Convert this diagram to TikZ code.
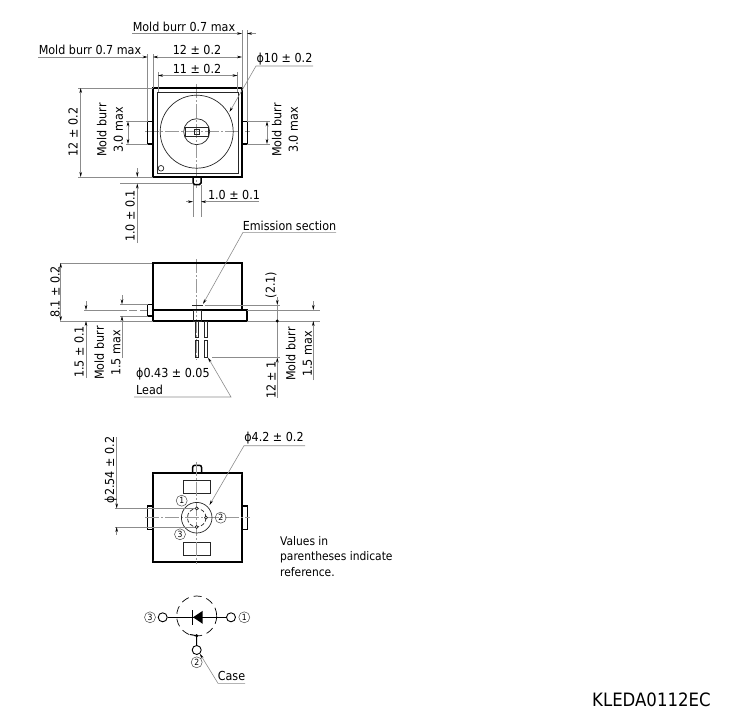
\documentclass[tikz,border=0pt]{standalone}
\usepackage{fontspec}
\setmainfont{DejaVu Sans Condensed}
\usetikzlibrary{arrows.meta}
\tikzset{
  outline/.style={black,line width=1.9pt},
  tabline/.style={black,line width=1.5pt},
  thinpart/.style={black!85,line width=0.7pt},
  dimline/.style={black!45,line width=0.6pt},
  centerline/.style={black!40,line width=0.6pt,dash pattern=on 14pt off 2pt on 2pt off 2pt},
  dimtip/.style={-{Stealth[length=5pt,width=2.6pt,black]}},
  dimtips/.style={{Stealth[length=5pt,width=2.6pt,black]}-{Stealth[length=5pt,width=2.6pt,black]}},
  txt/.style={black,inner sep=0pt,font=\fontsize{12.4}{13.5}\selectfont},
  vtxt/.style={txt,rotate=90},
  pinlabel/.style={circle,draw=black!70,line width=0.5pt,inner sep=0pt,minimum size=11pt,font=\fontsize{8.5}{9}\selectfont},
  term/.style={circle,draw=black,line width=0.9pt,fill=white,minimum size=9pt,inner sep=0pt}
}
\begin{document}
\begin{tikzpicture}[x=1pt,y=-1pt]
  \useasboundingbox (0,0) rectangle (732,726);
  % top view
  \draw[centerline] (196.7,84) -- (196.7,188);
  \draw[centerline] (145,131.7) -- (250,131.7);
  \draw[outline] (153,88) rectangle (242,177);
  \draw[thinpart] (157,92) rectangle (238.5,173);
  \draw[thinpart] (196.7,131.7) circle (36.5);
  \draw[thinpart] (196.7,131.7) circle (13);
  \draw[thinpart] (185.3,127) rectangle (208.7,136.7);
  \draw[thinpart] (194,129) rectangle (199.5,134.5);
  \draw[thinpart] (161,168.3) circle (2.8);
  \draw[tabline] (153,121.3) -- (147.5,121.3) -- (147.5,144) -- (153,144);
  \draw[tabline] (242,121.3) -- (247.3,121.3) -- (247.3,144) -- (242,144);
  \draw[tabline,rounded corners=1.5pt] (193,177) -- (193,184.5) -- (201,184.5) -- (201,177);
  % top view dimensions
  \draw[dimline] (242,30) -- (242,88);
  \draw[dimline] (247,30) -- (247,121);
  \draw[dimline] (147.7,54) -- (147.7,121);
  \draw[dimline] (153,54) -- (153,88);
  \draw[dimline] (158,72) -- (158,92);
  \draw[dimline] (237.5,72) -- (237.5,92);
  \draw[dimline,dimtip] (132,33.5) -- (242,33.5);
  \draw[dimline,dimtip] (256,33.5) -- (247,33.5);
  \node[txt] (burrtop) at (184,26.5) {Mold burr 0.7 max};
  \draw[dimline,dimtip] (38,57) -- (147.7,57);
  \node[txt] (burrleft) at (90,50) {Mold burr 0.7 max};
  \draw[dimline,dimtips] (153,57) -- (242,57);
  \node[txt] (widthouter) at (197,50) {12 ± 0.2};
  \draw[dimline,dimtips] (158,75.5) -- (237.5,75.5);
  \node[txt] (widthinner) at (197,68.5) {11 ± 0.2};
  \draw[dimline,dimtip] (313,66) -- (256,66) -- (229.5,112);
  \node[txt] (domedia) at (284.5,59) {ϕ10 ± 0.2};
  \draw[dimline] (78,88) -- (153,88);
  \draw[dimline] (78,177) -- (153,177);
  \draw[dimline,dimtips] (80.7,88) -- (80.7,177);
  \node[vtxt] (heighttop) at (73,132) {12 ± 0.2};
  \draw[dimline] (126,121.3) -- (147.5,121.3);
  \draw[dimline] (126,144) -- (147.5,144);
  \draw[dimline,dimtips] (128,121.3) -- (128,144);
  \node[vtxt,align=center] (burrtableft) at (110,130) {Mold burr\\[2.8pt]3.0 max};
  \draw[dimline] (247.3,121.3) -- (270,121.3);
  \draw[dimline] (247.3,144) -- (270,144);
  \draw[dimline,dimtips] (267,121.3) -- (267,144);
  \node[vtxt,align=center] (burrtabright) at (285,130) {Mold burr\\[2.8pt]3.0 max};
  \draw[dimline] (132,177) -- (153,177);
  \draw[dimline] (120,183.5) -- (193,183.5);
  \draw[dimline,dimtip] (137.3,168) -- (137.3,177);
  \draw[dimline,dimtip] (137.3,243) -- (137.3,183.5);
  \node[vtxt] (tabheight) at (130,216) {1.0 ± 0.1};
  \draw[dimline] (193,185) -- (193,217);
  \draw[dimline] (201,185) -- (201,217);
  \draw[dimline,dimtip] (186,201.7) -- (193,201.7);
  \draw[dimline,dimtip] (259,201.7) -- (201,201.7);
  \node[txt] (tabwidth) at (234,194.5) {1.0 ± 0.1};
  % side view
  \draw[centerline] (196.7,259) -- (196.7,360);
  \draw[outline] (153,310) -- (153,263) -- (242,263) -- (242,310);
  \draw[outline] (153,310) rectangle (247.3,321);
  \draw[tabline] (153,304.3) -- (147.5,304.3) -- (147.5,316) -- (153,316);
  \draw[thinpart] (193.3,310) rectangle (201,321);
  \draw[thinpart] (195,321) rectangle (198.3,337.5);
  \draw[thinpart] (195,340) rectangle (198.3,357.5);
  \draw[thinpart] (204.5,321) rectangle (207.8,337.5);
  \draw[thinpart] (204.5,340) rectangle (207.8,357.5);
  \draw[thinpart] (192,305) -- (203,305);
  % side view dimensions
  \draw[dimline] (60,263) -- (152,263);
  \draw[dimline] (60,321) -- (153,321);
  \draw[dimline,dimtips] (60.7,263) -- (60.7,321);
  \node[vtxt] (heightside) at (55,292) {8.1 ± 0.2};
  \draw[dimline] (84,310) -- (127,310);
  \draw[dimline,dash pattern=on 8pt off 3pt] (129,310) -- (147,310);
  \draw[dimline,dimtip] (86,301) -- (86,310);
  \draw[dimline,dimtip] (86,378) -- (86,321);
  \node[vtxt] (flange) at (79,352) {1.5 ± 0.1};
  \draw[dimline] (120,304.3) -- (147.5,304.3);
  \draw[dimline] (120,316) -- (147.5,316);
  \draw[dimline,dimtip] (122,295) -- (122,304.3);
  \draw[dimline,dimtip] (122,358) -- (122,316);
  \node[vtxt,align=center] (burrsideleft) at (107.5,353) {Mold burr\\[2.8pt]1.5 max};
  \draw[dimline,dimtip] (336,232.3) -- (243,232.3) -- (203,304);
  \node[txt] (emission) at (289.5,225.5) {Emission section};
  \draw[dimline] (205,305) -- (280,305);
  \draw[dimline] (247.3,310) -- (320,310);
  \draw[dimline] (247.3,321) -- (320,321);
  \draw[dimline,dimtip] (277.3,297) -- (277.3,305);
  \draw[dimline] (277.3,305) -- (277.3,357.5);
  \fill[black] (277.3,321) circle (1.6);
  \draw[dimline,dimtip] (277.3,398) -- (277.3,357.5);
  \draw[dimline] (212,357.5) -- (280,357.5);
  \node[vtxt] (emissionheight) at (271,285) {(2.1)};
  \node[vtxt] (leadlength) at (271,380) {12 ± 1};
  \draw[dimline,dimtip] (313.3,301) -- (313.3,310);
  \draw[dimline,dimtip] (313.3,380) -- (313.3,321);
  \node[vtxt,align=center] (burrsideright) at (299,354) {Mold burr\\[2.8pt]1.5 max};
  \draw[dimline,dimtip] (134,397) -- (231,397) -- (208,357.5);
  \node[txt,anchor=west] (leaddia) at (136,374) {ϕ0.43 ± 0.05};
  \node[txt,anchor=west] (leadname) at (136,390) {Lead};
  % bottom view
  \draw[outline] (153,473.3) rectangle (242,561.7);
  \foreach \cx/\cy/\dx/\dy in {154/474.3/1/1,241/474.3/-1/1,154/560.7/1/-1,241/560.7/-1/-1}
    \draw[white,line width=1pt] (\cx,\cy) -- ++(2*\dx,2*\dy);
  \draw[tabline] (153,506) -- (147.5,506) -- (147.5,529.3) -- (153,529.3);
  \draw[tabline] (242,506) -- (247.3,506) -- (247.3,529.3) -- (242,529.3);
  \draw[tabline,rounded corners=2pt] (192.7,473.3) -- (192.7,465.3) -- (201.5,465.3) -- (201.5,473.3);
  \draw[thinpart] (183.3,480.7) rectangle (210.7,493.3);
  \draw[thinpart] (183.3,542.3) rectangle (210.7,555);
  \draw[centerline] (196.7,461.7) -- (196.7,564);
  \draw[centerline] (145,517.7) -- (250,517.7);
  \draw[thinpart] (196.7,517.7) circle (15.3);
  \draw[thinpart,dash pattern=on 4pt off 2pt] (196.7,517.7) circle (9.3);
  \foreach \px/\py in {196.7/508.4,196.7/527,206/517.7}
    \draw[thinpart,fill=white] (\px,\py) circle (1.5);
  \node[pinlabel] (pinone) at (181.7,500.7) {1};
  \node[pinlabel] (pintwo) at (220.7,517.7) {2};
  \node[pinlabel] (pinthree) at (180,534.3) {3};
  % bottom view dimensions
  \draw[dimline] (115,508.4) -- (195,508.4);
  \draw[dimline] (115,527) -- (195,527);
  \draw[dimline,dimtip] (116.7,437) -- (116.7,508.4);
  \draw[dimline,dimtip] (116.7,535) -- (116.7,527);
  \node[vtxt] (pitch) at (110.7,470) {ϕ2.54 ± 0.2};
  \draw[dimline,dimtip] (305,445.7) -- (244,445.7) -- (209.5,505);
  \node[txt] (flangedia) at (274,438.5) {ϕ4.2 ± 0.2};
  \node[txt,anchor=north west,align=left,font=\fontsize{11.9}{15.5}\selectfont] (note) at (280,536) {Values in\\parentheses indicate\\reference.};
  % circuit
  \node[term] (termthree) at (162.7,617.3) {};
  \node[term] (termone) at (231,617.3) {};
  \node[term] (termtwo) at (196.7,650) {};
  \node[pinlabel] (labelthree) at (150,617.3) {3};
  \node[pinlabel] (labelone) at (244.3,617.3) {1};
  \node[pinlabel] (labeltwo) at (196.7,662.3) {2};
  \coordinate (casedot) at (196.7,635.7);
  \draw[black,line width=1pt] (termthree) -- (termone);
  \draw[black,line width=1.3pt] (192.3,610) -- (192.3,624.5);
  \fill[black] (193,617.3) -- (202.7,610.8) -- (202.7,623.8) -- cycle;
  \draw[black,line width=0.7pt,dash pattern=on 8pt off 5pt] (196.7,616) circle (20);
  \draw[black,line width=1pt] (190,634.5) -- (casedot) -- (termtwo);
  \fill[black] (casedot) circle (1.7);
  \draw[dimline,dimtip] (245,683.3) -- (218,683.3) -- (termtwo.-50);
  \node[txt] (casename) at (231.5,676) {Case};
  \node[txt,anchor=west,font=\fontsize{18.4}{20}\selectfont] (code) at (592,700) {KLEDA0112EC};
\end{tikzpicture}
\end{document}
